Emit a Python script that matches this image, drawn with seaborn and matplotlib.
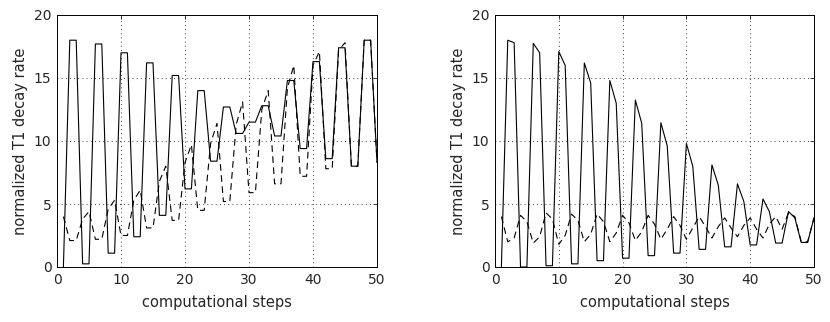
import numpy as np
import pandas as pd
import matplotlib
matplotlib.use('Agg')
import matplotlib.pyplot as plt
import seaborn as sns

# dane (kroki 1..50)
steps = list(range(1, 51))

left_solid = [0, 18.0, 18.0, 0.25, 0.25, 17.7, 17.7, 1.1, 1.1, 17.0, 17.0, 2.4, 2.4,
              16.2, 16.2, 4.1, 4.1, 15.2, 15.2, 6.2, 6.2, 14.0, 14.0, 8.4, 8.4,
              12.7, 12.7, 10.6, 10.6, 11.5, 11.5, 12.8, 12.8, 10.4, 10.4, 14.8, 14.8,
              9.4, 9.4, 16.3, 16.3, 8.6, 8.6, 17.4, 17.4, 8.0, 8.0, 18.0, 18.0, 8.3]
left_dashed = [4.0, 2.1, 2.1, 3.8, 4.4, 2.2, 2.2, 4.6, 5.3, 2.5, 2.5, 5.3, 6.1,
               3.1, 3.1, 6.8, 8.0, 3.7, 3.7, 8.3, 9.7, 4.5, 4.5, 9.8, 11.4,
               5.2, 5.2, 11.3, 13.1, 5.9, 5.9, 12.5, 14.0, 6.6, 6.6, 14.2, 16.0,
               7.2, 7.2, 16.0, 17.1, 7.8, 7.8, 17.2, 17.8, 8.0, 8.0, 18.0, 18.0, 8.3]

right_solid = [0, 18.0, 17.8, 0.0, 0.0, 17.75, 17.0, 0.1, 0.1, 17.1, 16.0, 0.25, 0.25,
               16.2, 14.6, 0.5, 0.5, 14.8, 13.0, 0.7, 0.7, 13.25, 11.4, 0.9, 0.9,
               11.45, 9.6, 1.1, 1.1, 9.8, 8.0, 1.4, 1.4, 8.1, 6.5, 1.6, 1.6,
               6.6, 5.2, 1.75, 1.75, 5.4, 4.4, 1.9, 1.9, 4.4, 3.9, 1.95, 1.95, 3.9]
right_dashed = [4.0, 2.0, 2.3, 4.1, 3.6, 1.9, 2.4, 4.3, 3.8, 1.8, 2.5, 4.2, 3.7,
                2.0, 2.6, 4.2, 3.6, 2.0, 2.7, 4.1, 3.5, 2.1, 2.8, 4.1, 3.4,
                2.2, 3.0, 4.0, 3.3, 2.2, 3.1, 4.0, 3.2, 2.3, 3.2, 3.9, 3.1,
                2.4, 3.3, 3.9, 3.0, 2.3, 3.4, 4.0, 3.0, 4.3, 4.0, 2.0, 2.0, 3.9]

xticks = [0, 10, 20, 30, 40, 50]
yticks = [0, 5, 10, 15, 20]

sns.set_style('white')
plt.rcParams['font.family'] = ['Liberation Sans Narrow', 'DejaVu Sans']
plt.rcParams['xtick.direction'] = 'in'
plt.rcParams['ytick.direction'] = 'in'

fig = plt.figure(figsize=(8.3, 3.22), dpi=100)
ax1 = fig.add_axes([57 / 830, 55 / 322, 320 / 830, 252 / 322])
ax2 = fig.add_axes([495 / 830, 55 / 322, 319 / 830, 252 / 322])


def draw(ax, solid, dashed):
    df = pd.DataFrame({
        'step': steps * 2,
        'rate': solid + dashed,
        'series': ['solid'] * len(steps) + ['dashed'] * len(steps),
    })
    sns.lineplot(data=df, x='step', y='rate', style='series', color='black',
                 dashes={'solid': '', 'dashed': (6, 4)}, linewidth=0.8,
                 legend=False, ax=ax)
    ax.set_xlim(0, 50)
    ax.set_ylim(0, 20)
    ax.set_xticks(xticks)
    ax.set_yticks(yticks)
    ax.grid(True, linestyle=(0, (1, 4)), color='black', linewidth=0.6)
    ax.tick_params(labelsize=10, length=3, width=0.6, top=True, right=True, pad=4)
    for s in ax.spines.values():
        s.set_visible(True)
        s.set_color('black')
        s.set_linewidth(0.7)
    ax.set_xlabel('computational steps', fontsize=10.5, labelpad=6)
    ax.set_ylabel('normalized T1 decay rate', fontsize=10.5, labelpad=4)


draw(ax1, left_solid, left_dashed)
draw(ax2, right_solid, right_dashed)

fig.savefig('out.png', dpi=100)
